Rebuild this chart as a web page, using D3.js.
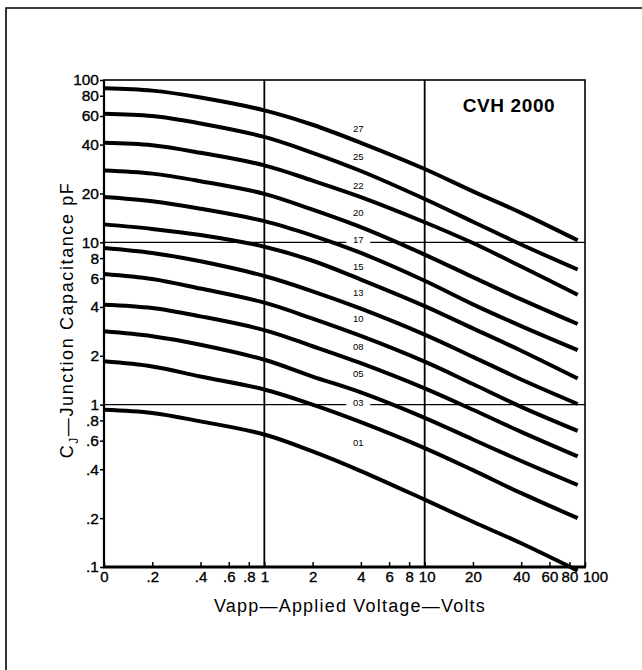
<!DOCTYPE html>
<html>
<head>
<meta charset="utf-8">
<script src="https://cdn.jsdelivr.net/npm/d3@7"></script>
<style>
  html, body { margin: 0; padding: 0; background: #fff; }
  svg { display: block; }
  text { font-family: "Liberation Sans", Arial, sans-serif; fill: #000; }
</style>
</head>
<body>
<svg id="chart" width="642" height="670"></svg>
<script>
// ---------- data ----------
const voltages = [0.1, 0.2, 0.4, 1, 2, 4, 10, 20, 40, 90];
const curveNames = ["27", "25", "22", "20", "17", "15", "13", "10", "08", "05", "03", "01"];
const c27 = [89, 86, 78, 65, 53, 41, 28.3, 20.6, 15.2, 10.3];
const c25 = [62, 60, 54, 44.6, 35.6, 27.5, 18.5, 13.4, 9.7, 6.8];
const c22 = [41, 39.6, 35.6, 29.8, 24, 19, 13.3, 9.9, 7.1, 4.76];
const c20 = [27.7, 26.5, 23.8, 19.9, 15.9, 12.4, 8.4, 6.1, 4.45, 3.14];
const c17 = [19.0, 17.9, 16.1, 13.5, 11.0, 8.6, 5.8, 4.15, 3.05, 2.17];
const c15 = [12.9, 12.1, 11.1, 9.4, 7.7, 5.9, 4.05, 2.95, 2.15, 1.45];
const c13 = [9.23, 8.6, 7.64, 6.2, 4.99, 3.9, 2.7, 1.97, 1.43, 1.01];
const c10 = [6.39, 5.95, 5.19, 4.25, 3.39, 2.65, 1.84, 1.34, 0.97, 0.69];
const c08 = [4.13, 3.94, 3.50, 2.88, 2.29, 1.8, 1.26, 0.93, 0.68, 0.48];
const c05 = [2.83, 2.64, 2.34, 1.89, 1.49, 1.19, 0.83, 0.61, 0.45, 0.32];
const c03 = [1.85, 1.72, 1.49, 1.24, 1.0, 0.78, 0.54, 0.395, 0.285, 0.2];
const c01 = [0.93, 0.889, 0.789, 0.655, 0.515, 0.39, 0.26, 0.19, 0.14, 0.095];
const seriesValues = [c27, c25, c22, c20, c17, c15, c13, c10, c08, c05, c03, c01];
// where each curve's number label sits (voltage, capacitance)
const labelVoltage = 3.8;
const labelCap = [50.2, 33.9, 22.4, 15.3, 10.4, 7.11, 4.92, 3.39, 2.29, 1.55, 1.03, 0.581];

const xTicks = [0.1, 0.2, 0.4, 0.6, 0.8, 1, 2, 4, 6, 8, 10, 20, 40, 60, 80, 100];
const xTickLabels = ["0", ".2", ".4", ".6", ".8", "1", "2", "4", "6", "8", "10", "20", "40", "60", "80", "100"];
const yTicks = [0.1, 0.2, 0.4, 0.6, 0.8, 1, 2, 4, 6, 8, 10, 20, 40, 60, 80, 100];
const yTickLabels = [".1", ".2", ".4", ".6", ".8", "1", "2", "4", "6", "8", "10", "20", "40", "60", "80", "100"];
const gridX = [1, 10];
const gridY = [1, 10];

const title = "CVH 2000";
const xTitle = "Vapp\u2014Applied Voltage\u2014Volts";

// ---------- layout ----------
const svg = d3.select("#chart");
const L = 104, R = 585, T = 80, B = 567;
const x = d3.scaleLog().domain([0.1, 100]).range([L, R]);
const y = d3.scaleLog().domain([0.1, 100]).range([B, T]);

// outer page frame (top & left edges)
svg.append("path").attr("d", `M6,670 L6,8 L642,8`)
  .attr("fill", "none").attr("stroke", "#000").attr("stroke-width", 1.6);

// grid lines
svg.append("g").selectAll("line").data(gridX).join("line")
  .attr("x1", d => x(d)).attr("x2", d => x(d)).attr("y1", T).attr("y2", B)
  .attr("stroke", "#000").attr("stroke-width", 1.8);
svg.append("g").selectAll("line").data(gridY).join("line")
  .attr("x1", L).attr("x2", R).attr("y1", d => y(d)).attr("y2", d => y(d))
  .attr("stroke", "#000").attr("stroke-width", 1.3);

// white backgrounds behind curve labels (interrupt the grid lines)
svg.append("g").selectAll("rect").data(curveNames).join("rect")
  .attr("x", x(labelVoltage) - 11).attr("y", (d, i) => y(labelCap[i]) - 6)
  .attr("width", 24).attr("height", 12).attr("fill", "#fff");

// curves
const line = d3.line().x(d => x(d[0])).y(d => y(d[1])).curve(d3.curveCatmullRom.alpha(0.5));
svg.append("g").selectAll("path").data(seriesValues).join("path")
  .attr("d", vals => line(vals.map((v, i) => [voltages[i], v])))
  .attr("fill", "none").attr("stroke", "#000").attr("stroke-width", 4)
  .attr("stroke-linecap", "butt");

// curve labels
svg.append("g").selectAll("text").data(curveNames).join("text")
  .attr("x", x(labelVoltage) + 1).attr("y", (d, i) => y(labelCap[i]))
  .attr("dy", "0.35em").attr("text-anchor", "middle")
  .attr("font-size", 9.5).text(d => d);

// plot frame
svg.append("rect").attr("x", L).attr("y", T).attr("width", R - L).attr("height", B - T)
  .attr("fill", "none").attr("stroke", "#000").attr("stroke-width", 1.6);
svg.append("line").attr("x1", L - 1).attr("x2", R + 1).attr("y1", B).attr("y2", B)
  .attr("stroke", "#000").attr("stroke-width", 3);
svg.append("line").attr("x1", L).attr("x2", L).attr("y1", T).attr("y2", B)
  .attr("stroke", "#000").attr("stroke-width", 2.2);

// y axis
const yAxis = d3.axisLeft(y).tickValues(yTicks)
  .tickFormat((d, i) => yTickLabels[i]).tickSize(4).tickPadding(1);
const gy = svg.append("g").attr("transform", `translate(${L},0)`).call(yAxis);
gy.select(".domain").remove();
gy.selectAll("line").attr("stroke", "#000").attr("stroke-width", 1.5);
gy.selectAll("text").attr("font-size", 15.5).attr("font-family", "Liberation Sans, Arial, sans-serif")
  .attr("fill", "#000").attr("stroke", "#000").attr("stroke-width", 0.35);

// x axis
const xAxis = d3.axisBottom(x).tickValues(xTicks)
  .tickFormat((d, i) => xTickLabels[i]).tickSize(-5).tickPadding(4);
const gx = svg.append("g").attr("transform", `translate(0,${B})`).call(xAxis);
gx.select(".domain").remove();
gx.selectAll("line").attr("stroke", "#000").attr("stroke-width", 1.5);
gx.selectAll("text").attr("font-size", 15).attr("font-family", "Liberation Sans, Arial, sans-serif")
  .attr("fill", "#000").attr("stroke", "#000").attr("stroke-width", 0.35)
  .attr("dx", d => d === 100 ? 10 : (d === 10 ? 2 : 0));

// title
svg.append("text").attr("x", 509).attr("y", 112).attr("text-anchor", "middle")
  .attr("font-size", 19).attr("font-weight", "bold").attr("letter-spacing", 0.6).text(title);

// x axis title
svg.append("text").attr("x", 350).attr("y", 612).attr("text-anchor", "middle")
  .attr("font-size", 18).attr("letter-spacing", 1.2).text(xTitle);

// y axis title
const yt = svg.append("text").attr("transform", "translate(73,320) rotate(-90)")
  .attr("text-anchor", "middle").attr("font-size", 18).attr("letter-spacing", 1.6);
yt.append("tspan").text("C");
yt.append("tspan").attr("font-size", 12).attr("dy", 5).text("J");
yt.append("tspan").attr("dy", -5).text("\u2014Junction Capacitance pF");
</script>
</body>
</html>
